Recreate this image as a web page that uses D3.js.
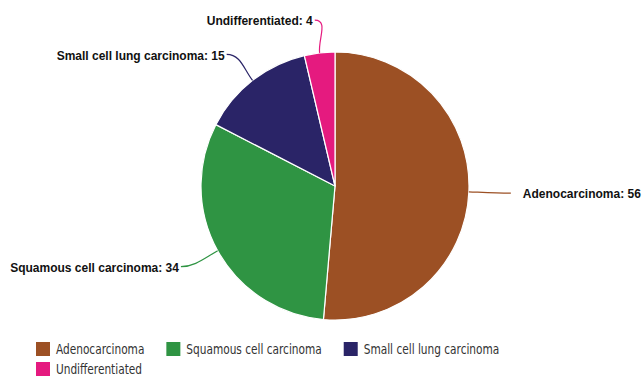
<!DOCTYPE html>
<html>
<head>
<meta charset="utf-8">
<script src="https://cdn.jsdelivr.net/npm/d3@7"></script>
<style>
  html, body { margin: 0; padding: 0; background: #ffffff; }
  svg { display: block; }
</style>
</head>
<body>
<svg id="chart" width="643" height="376"></svg>
<script>
// Histological types of lung cancer cases
const categories = ["Adenocarcinoma", "Squamous cell carcinoma", "Small cell lung carcinoma", "Undifferentiated"];
const counts = [56, 34, 15, 4];
const colors = ["#9c5024", "#2f9443", "#2a2467", "#e51a7f"];

const width = 643, height = 376;
const cx = 335, cy = 186, radius = 134;
// labels sit on a slightly flattened ring around the pie
const labelRx = 176, labelRy = 167;

const svg = d3.select("#chart");
const data = categories.map((name, i) => ({ name, value: counts[i], color: colors[i] }));

const pie = d3.pie().value(d => d.value).sort(null);
const arcs = pie(data);
const arc = d3.arc().innerRadius(0).outerRadius(radius);

const g = svg.append("g").attr("transform", `translate(${cx},${cy})`);

g.selectAll("path.slice")
  .data(arcs)
  .join("path")
  .attr("class", "slice")
  .attr("d", arc)
  .attr("fill", d => d.data.color)
  .attr("stroke", "#ffffff")
  .attr("stroke-width", 1.2)
  .attr("stroke-linejoin", "round");

const labels = g.append("g").attr("class", "labels");
arcs.forEach(d => {
  const mid = (d.startAngle + d.endAngle) / 2;
  const ux = Math.sin(mid), uy = -Math.cos(mid);
  const dir = ux >= 0 ? 1 : -1;
  const ex = ux * radius, ey = uy * radius;
  const endX = ux * labelRx, endY = uy * labelRy;
  const path = `M${endX},${endY} C${endX - dir * 14},${endY} ${ex + ux * 14},${ey + uy * 14} ${ex},${ey}`;
  labels.append("path")
    .attr("d", path)
    .attr("fill", "none")
    .attr("stroke", d.data.color)
    .attr("stroke-width", 1.2);
  labels.append("text")
    .attr("x", dir > 0 ? endX + 12 : endX - 2)
    .attr("y", endY + 1)
    .attr("dy", "0.35em")
    .attr("text-anchor", dir > 0 ? "start" : "end")
    .attr("font-family", "'Liberation Sans', Arial, sans-serif")
    .attr("font-weight", "bold")
    .attr("font-size", 12)
    .attr("fill", "#111111")
    .text(`${d.data.name}: ${d.data.value}`);
});

// Legend with flowing rows; item text is set in a narrow face
const legend = svg.append("g").attr("class", "legend");
const startX = 36, rowTop = 342, rowGap = 20, maxX = 600, sw = 14, itemGap = 22, squeeze = 0.87;
let x = startX, row = 0;
data.forEach(d => {
  const item = legend.append("g");
  const t = item.append("g")
    .attr("transform", `translate(${sw + 6},0) scale(${squeeze},1)`)
    .append("text")
    .attr("y", 7)
    .attr("dy", "0.37em")
    .attr("font-family", "'DejaVu Sans Condensed', 'DejaVu Sans', sans-serif")
    .attr("font-stretch", "condensed")
    .attr("font-size", 13.5)
    .attr("fill", "#333333")
    .text(d.name);
  const w = sw + 6 + t.node().getComputedTextLength() * squeeze;
  if (x + w > maxX && x > startX) { x = startX; row += 1; }
  item.append("rect")
    .attr("width", sw).attr("height", sw)
    .attr("fill", d.color);
  item.attr("transform", `translate(${x},${rowTop + row * rowGap})`);
  x += w + itemGap;
});
</script>
</body>
</html>
